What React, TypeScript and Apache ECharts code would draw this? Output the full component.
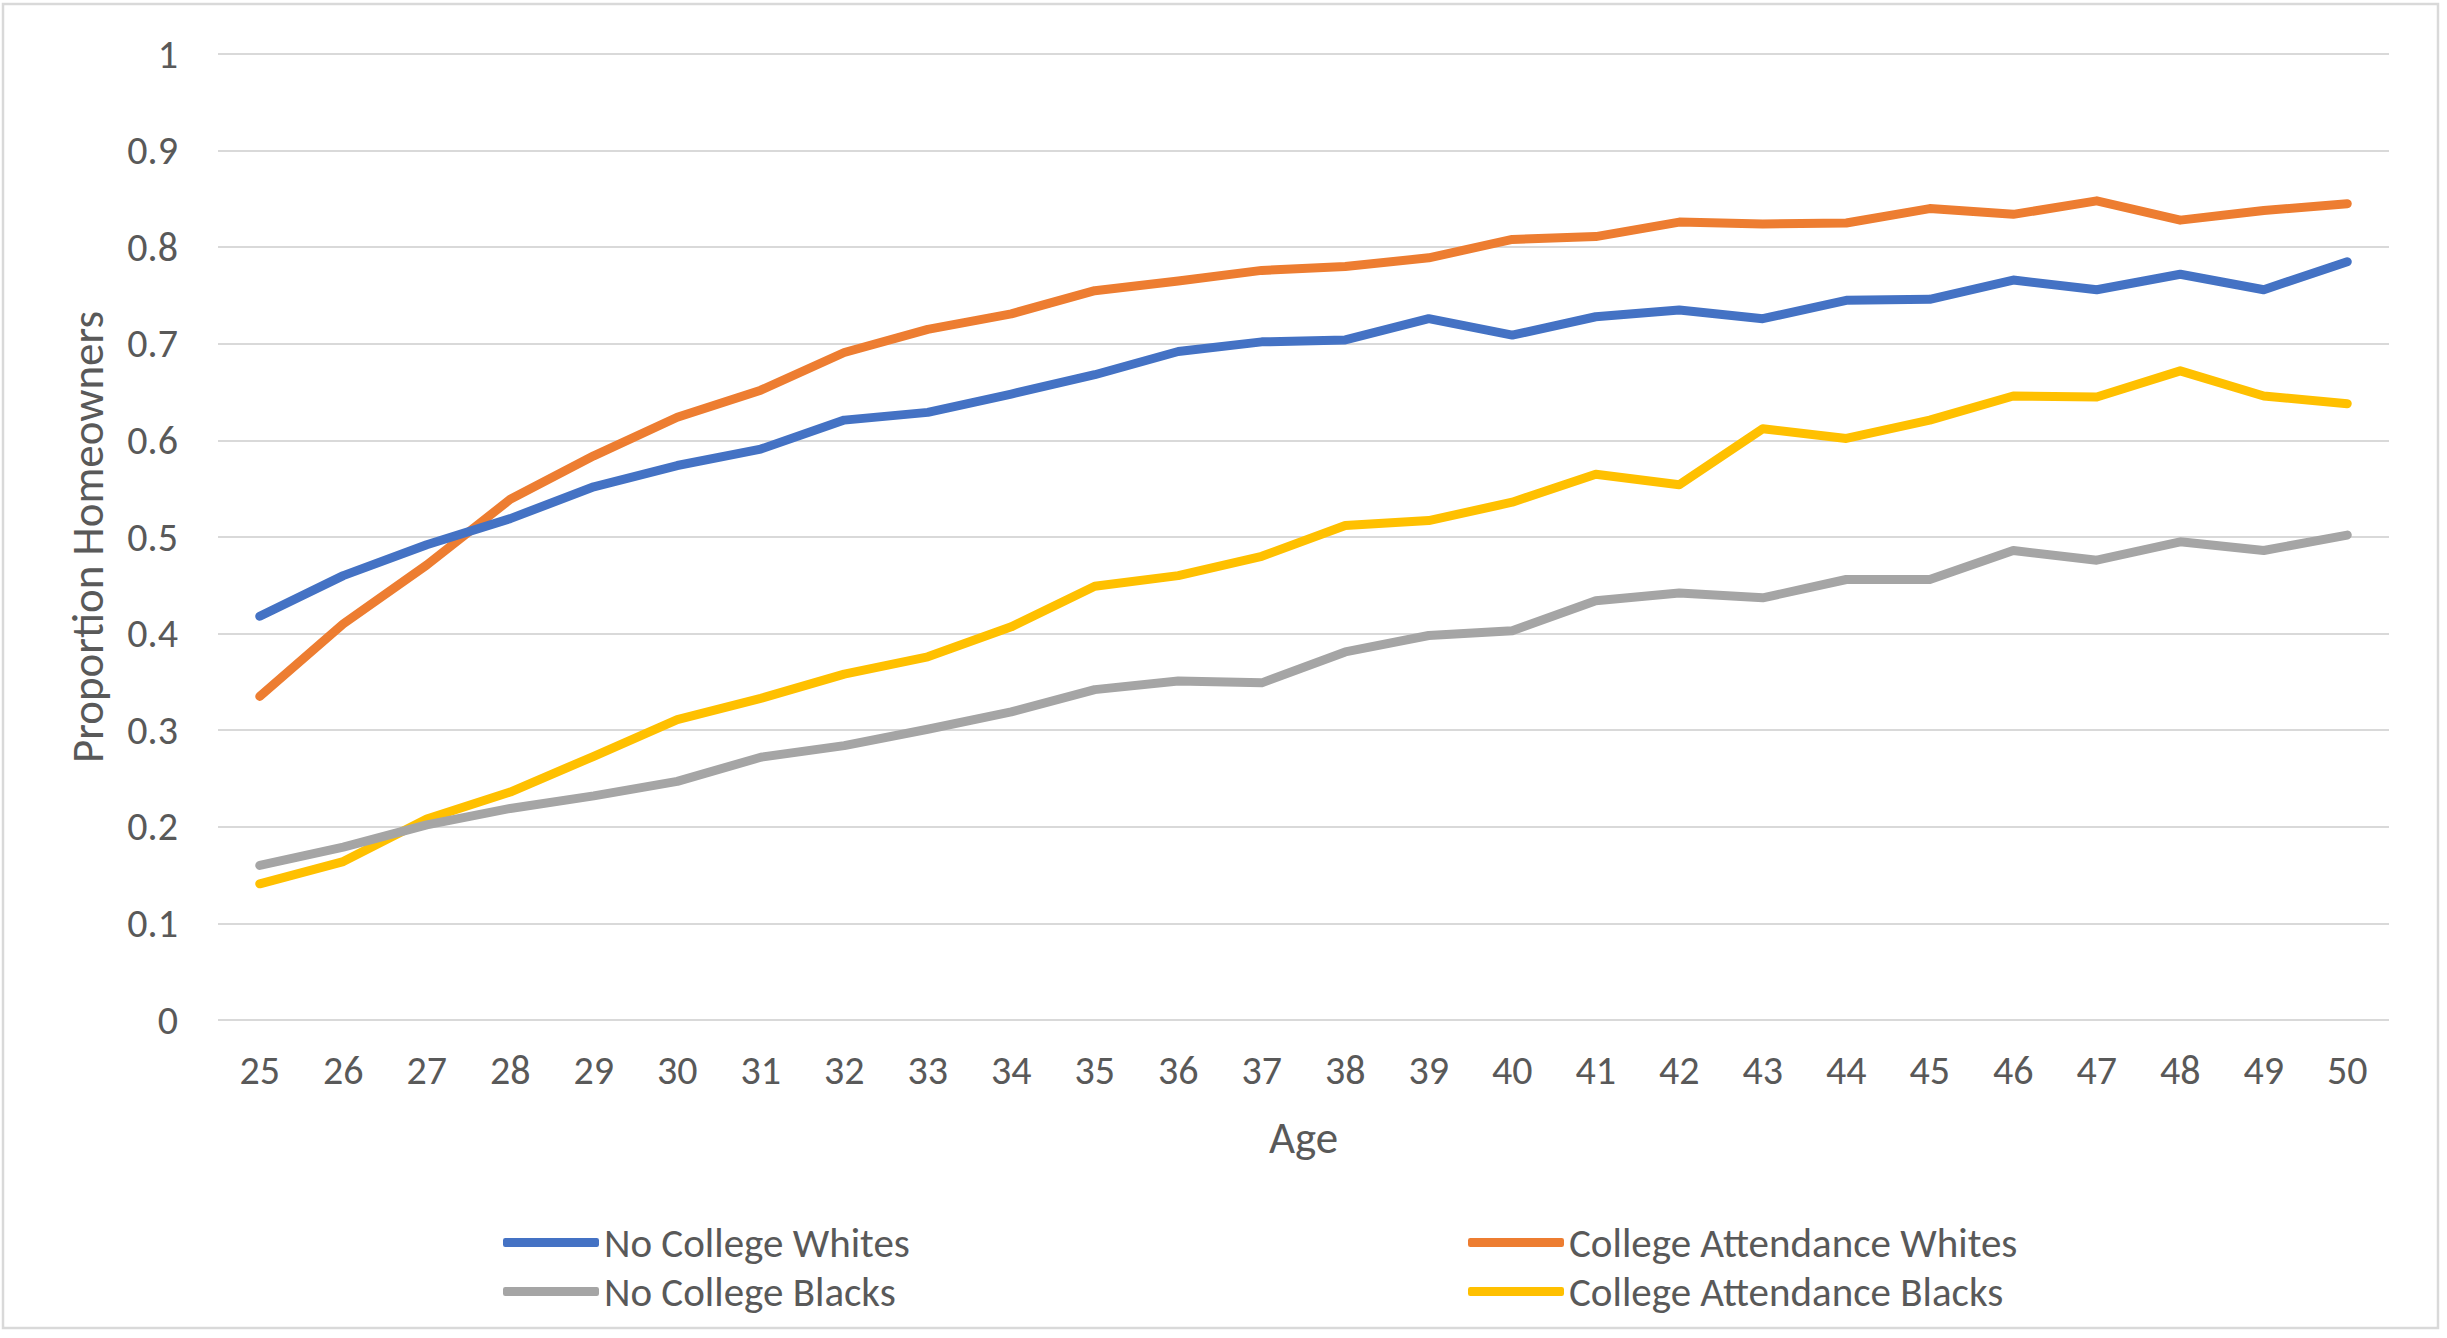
import React, { useEffect, useRef } from "react";
import * as echarts from "echarts";

const ages = ["25","26","27","28","29","30","31","32","33","34","35","36","37","38","39","40","41","42","43","44","45","46","47","48","49","50"];
const yTicks = [0, 0.1, 0.2, 0.3, 0.4, 0.5, 0.6, 0.7, 0.8, 0.9, 1];

const noCollegeWhites = [0.418, 0.460, 0.492, 0.519, 0.552, 0.574, 0.591, 0.621, 0.629, 0.648, 0.668, 0.692, 0.702, 0.704, 0.726, 0.709, 0.728, 0.735, 0.726, 0.745, 0.746, 0.766, 0.756, 0.772, 0.756, 0.785];
const collegeWhites = [0.335, 0.410, 0.471, 0.539, 0.584, 0.624, 0.652, 0.691, 0.715, 0.731, 0.755, 0.765, 0.776, 0.780, 0.789, 0.808, 0.811, 0.826, 0.824, 0.825, 0.840, 0.834, 0.848, 0.828, 0.838, 0.845];
const noCollegeBlacks = [0.160, 0.179, 0.202, 0.219, 0.232, 0.247, 0.272, 0.284, 0.301, 0.319, 0.342, 0.351, 0.349, 0.381, 0.398, 0.403, 0.434, 0.442, 0.437, 0.456, 0.456, 0.486, 0.476, 0.495, 0.486, 0.502];
const collegeBlacks = [0.141, 0.164, 0.208, 0.236, 0.273, 0.311, 0.333, 0.358, 0.376, 0.407, 0.449, 0.460, 0.480, 0.512, 0.517, 0.536, 0.565, 0.554, 0.612, 0.602, 0.621, 0.646, 0.645, 0.672, 0.646, 0.638];

const seriesNames = ["No College Whites", "College Attendance Whites", "No College Blacks", "College Attendance Blacks"];
const seriesColors = ["#4472C4", "#ED7D31", "#A5A5A5", "#FFC000"];

const FONT = "Carlito, Lato, sans-serif";
const TEXT = "#595959";

export default function App() {
  const ref = useRef<HTMLDivElement>(null);
  useEffect(() => {
    document.body.style.margin = "0";
    if (!ref.current) return;
    const chart = echarts.init(ref.current, null, { renderer: "svg" });
    const values = [noCollegeWhites, collegeWhites, noCollegeBlacks, collegeBlacks];
    const legendCommon = {
      orient: "vertical" as const,
      icon: "roundRect",
      itemWidth: 96,
      itemHeight: 9,
      itemGap: 8,
      textStyle: { fontFamily: FONT, fontSize: 41, color: TEXT, padding: [0, 0, 0, 0] },
      top: 1217,
      selectedMode: false,
    };
    chart.setOption({
      animation: false,
      backgroundColor: "#ffffff",
      textStyle: { fontFamily: FONT },
      graphic: [
        {
          type: "rect",
          shape: { x: 3, y: 4, width: 2435, height: 1324 },
          style: { fill: "none", stroke: "#D9D9D9", lineWidth: 2.5 },
          silent: true,
        },
      ],
      legend: [
        { ...legendCommon, left: 498, data: [seriesNames[0], seriesNames[2]] },
        { ...legendCommon, left: 1463, data: [seriesNames[1], seriesNames[3]] },
      ],
      grid: { left: 218, right: 58, top: 54, bottom: 318, containLabel: false },
      xAxis: {
        type: "category",
        data: ages,
        boundaryGap: true,
        name: "Age",
        nameLocation: "middle",
        nameGap: 95,
        nameTextStyle: { fontFamily: FONT, fontSize: 45, color: TEXT },
        axisLine: { show: false },
        axisTick: { show: false },
        axisLabel: { fontFamily: FONT, fontSize: 40, color: TEXT, margin: 30, interval: 0 },
      },
      yAxis: {
        type: "value",
        min: 0,
        max: 1,
        interval: 0.1,
        name: "Proportion Homeowners",
        nameLocation: "middle",
        nameRotate: 90,
        nameGap: 108,
        nameTextStyle: { fontFamily: FONT, fontSize: 45, color: TEXT },
        axisLine: { show: false },
        axisTick: { show: false },
        axisLabel: {
          fontFamily: FONT,
          fontSize: 40,
          color: TEXT,
          margin: 40,
          formatter: (v: number) => {
            const t = yTicks.find((k) => Math.abs(k - v) < 1e-9);
            return String(t !== undefined ? t : Math.round(v * 10) / 10);
          },
        },
        splitLine: { lineStyle: { color: "#D9D9D9", width: 2 } },
      },
      series: seriesNames.map((name, i) => ({
        name,
        type: "line",
        data: values[i],
        symbol: "none",
        color: seriesColors[i],
        lineStyle: { width: 9, color: seriesColors[i], cap: "round", join: "round" },
        z: 10 - i,
      })),
    });
    return () => chart.dispose();
  }, []);
  return <div ref={ref} style={{ width: 2447, height: 1338 }} />;
}
